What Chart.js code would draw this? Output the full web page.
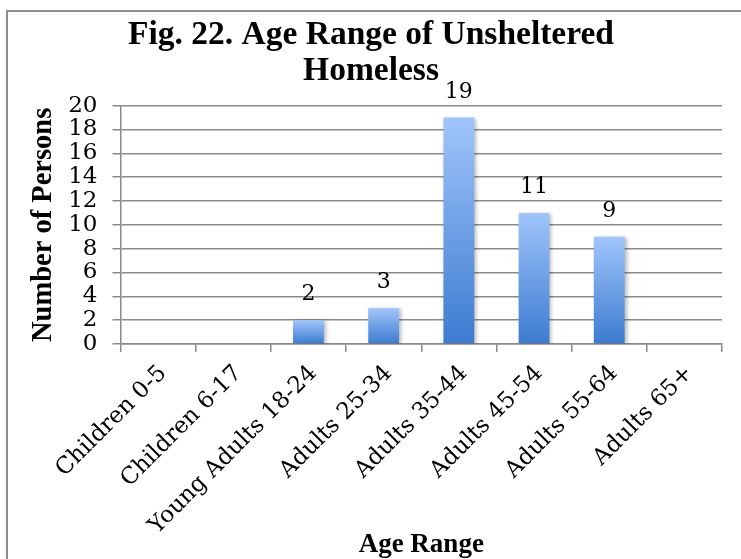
<!DOCTYPE html>
<html>
<head>
<meta charset="utf-8">
<script src="https://cdn.jsdelivr.net/npm/chart.js@4"></script>
<style>
  html, body { margin: 0; padding: 0; background: #fff; }
  #wrap { position: relative; width: 741px; height: 559px; overflow: hidden; }
  #frame { position: absolute; left: 6px; top: 10px; width: 800px; height: 800px; border: 2px solid #8c8c8c; }
  canvas { position: absolute; left: 0; top: 0; }
</style>
</head>
<body>
<div id="wrap">
  <div id="frame"></div>
  <canvas id="chartEdad" width="741" height="559"></canvas>
</div>
<script>
// --- datos del gráfico ---
const categorias = ['Children 0-5', 'Children 6-17', 'Young Adults 18-24', 'Adults 25-34',
                    'Adults 35-44', 'Adults 45-54', 'Adults 55-64', 'Adults 65+'];
const personas = [0, 0, 2, 3, 19, 11, 9, 0];
const titulo = ['Fig. 22. Age Range of Unsheltered', 'Homeless'];
const tituloX = 'Age Range';
const tituloY = 'Number of Persons';

const SERIF = '"Liberation Serif", "Times New Roman", serif';
const SERIF_TXT = '"DejaVu Serif", serif';
const GRIS = '#8a8a8a';

// Degradado por barra: claro arriba, oscuro abajo
function colorBarra(context) {
    const chart = context.chart;
    const y = chart.scales.y;
    if (!y || !chart.chartArea) return '#5b8fd8';
    const valor = context.raw || 0;
    const g = chart.ctx.createLinearGradient(0, y.getPixelForValue(0), 0, y.getPixelForValue(valor));
    g.addColorStop(0, '#3c7bcf');
    g.addColorStop(1, '#a0c5fb');
    return g;
}

// Sombra suave como en Excel
const sombraBarras = {
    id: 'sombraBarras',
    beforeDatasetsDraw(chart) {
        const ctx = chart.ctx;
        ctx.save();
        ctx.shadowColor = 'rgba(0,0,0,0.28)';
        ctx.shadowBlur = 4;
        ctx.shadowOffsetX = 2;
        ctx.shadowOffsetY = 1;
    },
    afterDatasetsDraw(chart) {
        chart.ctx.restore();
    }
};

// Etiquetas de valor encima de cada barra (solo si > 0)
const etiquetasValor = {
    id: 'etiquetasValor',
    afterDraw(chart) {
        const ctx = chart.ctx;
        const meta = chart.getDatasetMeta(0);
        ctx.save();
        ctx.font = '22px ' + SERIF_TXT;
        ctx.fillStyle = '#000';
        ctx.textAlign = 'center';
        ctx.textBaseline = 'alphabetic';
        meta.data.forEach((bar, i) => {
            const v = personas[i];
            if (!v) return;
            ctx.fillText(String(v), bar.x, bar.y - 20);
        });
        ctx.restore();
    }
};

const ctx = document.getElementById('chartEdad').getContext('2d');
new Chart(ctx, {
    type: 'bar',
    data: {
        labels: categorias,
        datasets: [{
            label: 'Persons',
            data: personas,
            backgroundColor: colorBarra,
            borderWidth: 0,
            barPercentage: 0.41,
            categoryPercentage: 1
        }]
    },
    options: {
        responsive: false,
        animation: false,
        layout: { padding: { left: 20, right: 19, top: 0, bottom: 0 } },
        plugins: {
            legend: { display: false },
            tooltip: { enabled: false },
            title: {
                display: true,
                text: titulo,
                color: '#000',
                font: { family: SERIF, size: 33.5, weight: 'bold', lineHeight: 1.1 },
                padding: { top: 16.5, bottom: 15.5 }
            }
        },
        scales: {
            x: {
                grid: { offset: true, drawOnChartArea: false, drawTicks: true, tickLength: 8, color: GRIS, lineWidth: 1.5 },
                border: { color: GRIS, width: 1.5 },
                ticks: {
                    autoSkip: false, minRotation: 45, maxRotation: 45, padding: 8, labelOffset: 5,
                    color: '#000', font: { family: SERIF_TXT, size: 23 }
                },
                title: {
                    display: true, text: tituloX, color: '#000',
                    font: { family: SERIF, size: 27, weight: 'bold', lineHeight: 1 },
                    padding: { top: 0, bottom: 0 }
                },
                afterFit(scale) { scale.height = 215; }
            },
            y: {
                min: 0, max: 20,
                grid: { color: GRIS, lineWidth: 1.5, tickLength: 8 },
                border: { color: GRIS, width: 1.5 },
                ticks: { stepSize: 2, autoSkip: false, padding: 15, color: '#000', font: { family: SERIF_TXT, size: 23, lineHeight: 1 } },
                title: {
                    display: true, text: tituloY, color: '#000',
                    font: { family: SERIF, size: 28.5, weight: 'bold', lineHeight: 1 },
                    padding: { top: 9, bottom: 0 }
                },
                afterFit(scale) { scale.width = 100.5; }
            }
        }
    },
    plugins: [sombraBarras, etiquetasValor]
});
</script>
</body>
</html>
